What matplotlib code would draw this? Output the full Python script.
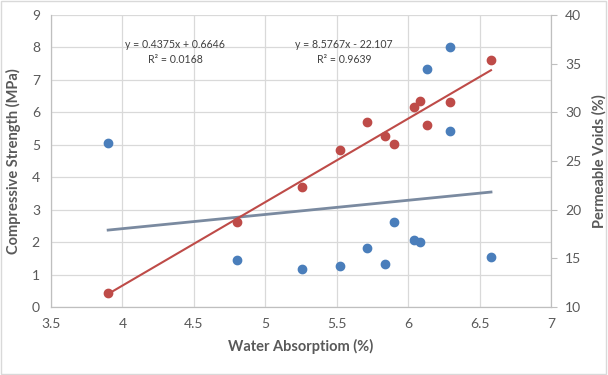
import numpy as np
import matplotlib.pyplot as plt

plt.rcParams['font.family'] = ['Lato', 'DejaVu Sans']

# Compressive strength (left axis)
wa_cs = [3.90, 4.80, 5.26, 5.52, 5.71, 5.84, 5.90, 6.04, 6.08, 6.58, 6.13, 6.29, 6.29]
cs = [5.06, 1.45, 1.18, 1.25, 1.83, 1.33, 2.62, 2.07, 2.01, 1.53, 7.35, 8.01, 5.42]

# Permeable voids (right axis)
wa_pv = [3.90, 4.80, 5.26, 5.52, 5.71, 5.84, 5.90, 6.04, 6.08, 6.13, 6.29, 6.58]
pv = [11.4, 18.76, 22.3, 26.15, 29.05, 27.58, 26.76, 30.56, 31.17, 28.68, 31.07, 35.35]

# trendline coefficients as printed on the chart
cs_fit = (0.4375, 0.6646)
pv_fit = (8.5767, -22.107)

blue = '#4a7ebb'
red = '#be4b48'
grey_txt = '#595959'

fig = plt.figure(figsize=(6.08, 3.75), dpi=100)
fig.patches.append(plt.Rectangle((0.002, 0.003), 0.995, 0.994, transform=fig.transFigure,
                                 fill=False, edgecolor='#d9d9d9', linewidth=1))
ax = fig.add_axes([51/608, 1 - 307/375, 500/608, 292/375])
ax2 = ax.twinx()

ax.set_xlim(3.5, 7)
ax.set_ylim(0, 9)
ax2.set_ylim(10, 40)
ax.set_xticks(np.arange(3.5, 7.01, 0.5))
ax.set_xticklabels(['3.5', '4', '4.5', '5', '5.5', '6', '6.5', '7'])
ax.set_yticks(range(0, 10))
ax2.set_yticks(range(10, 41, 5))
ax.grid(True, color='#d9d9d9', linewidth=0.9)
ax.set_axisbelow(True)

for a in (ax, ax2):
    for s in a.spines.values():
        s.set_color('#bfbfbf')
    a.spines['top'].set_visible(False)
ax.tick_params(axis='both', length=0, labelsize=10, colors=grey_txt, pad=8)
ax2.tick_params(axis='y', length=4, color='#bfbfbf', labelsize=10, labelcolor=grey_txt, pad=6)

ax.scatter(wa_cs, cs, s=36, color=blue, zorder=3)
ax2.scatter(wa_pv, pv, s=36, color=red, zorder=3)

xs = np.array([min(wa_cs), max(wa_cs)])
ax.plot(xs, cs_fit[0] * xs + cs_fit[1], color='#7a8aa0', linewidth=2, zorder=2)
xp = np.array([min(wa_pv), max(wa_pv)])
ax2.plot(xp, pv_fit[0] * xp + pv_fit[1], color=red, linewidth=1.5, zorder=2)

ax.set_xlabel('Water Absorptiom (%)', fontsize=10.5, fontweight='bold', color=grey_txt, labelpad=6)
ax.set_ylabel('Compressive Strength (MPa)', fontsize=10.5, fontweight='bold', color=grey_txt, labelpad=8)
ax2.set_ylabel('Permeable Voids (%)', fontsize=10.5, fontweight='bold', color=grey_txt, labelpad=8)

ax.text(4.37, 7.85, 'y = 0.4375x + 0.6646\nR² = 0.0168', fontsize=7.6, color='#404040',
        ha='center', va='center', linespacing=1.45)
ax.text(5.55, 7.85, 'y = 8.5767x - 22.107\nR² = 0.9639', fontsize=7.6, color='#404040',
        ha='center', va='center', linespacing=1.45)

fig.savefig('out.png', dpi=100)
